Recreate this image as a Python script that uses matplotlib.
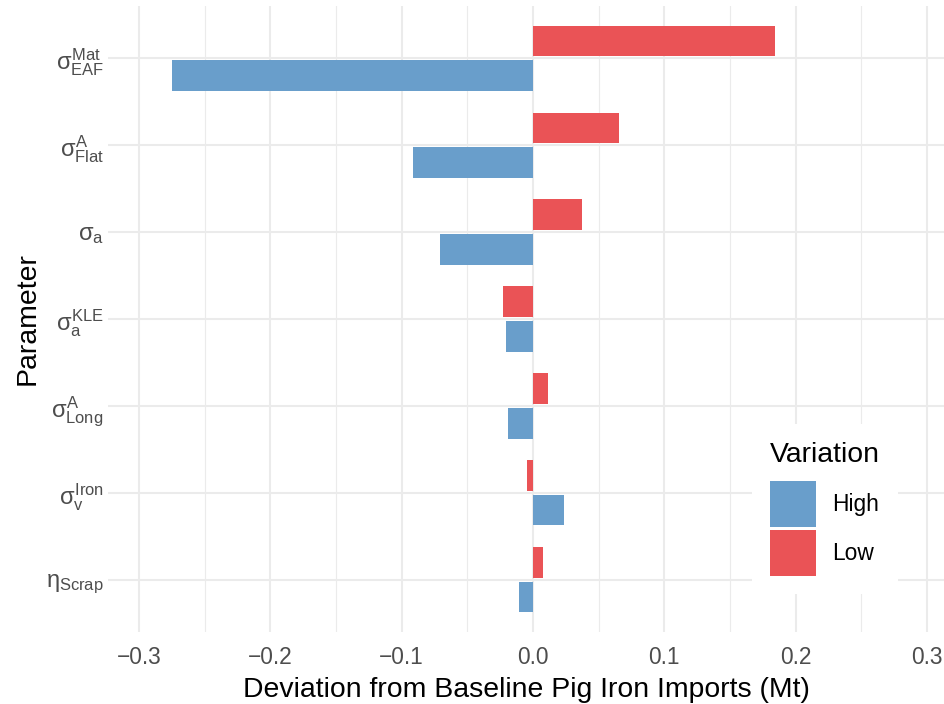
import matplotlib
matplotlib.use("Agg")
import matplotlib.pyplot as plt
from matplotlib.patches import Patch
from matplotlib.ticker import FixedLocator, FuncFormatter
import numpy as np

plt.rcParams['font.family'] = ['Liberation Sans', 'DejaVu Sans']
plt.rcParams['mathtext.fontset'] = 'custom'
plt.rcParams['mathtext.rm'] = 'Liberation Sans'
plt.rcParams['mathtext.it'] = 'Liberation Sans'
plt.rcParams['mathtext.bf'] = 'Liberation Sans:bold'

# Data (top to bottom)
parameters = [r'$\sigma_{\mathrm{EAF}}^{\mathrm{Mat}}$',
              r'$\sigma_{\mathrm{Flat}}^{\mathrm{A}}$',
              r'$\sigma_{\mathrm{a}}$',
              r'$\sigma_{\mathrm{a}}^{\mathrm{KLE}}$',
              r'$\sigma_{\mathrm{Long}}^{\mathrm{A}}$',
              r'$\sigma_{\mathrm{v}}^{\mathrm{Iron}}$',
              r'$\eta_{\mathrm{Scrap}}$']
high_values = [-0.275, -0.0915, -0.0708, -0.0206, -0.0190, 0.0236, -0.0107]
low_values = [0.184, 0.0655, 0.0373, -0.0228, 0.0114, -0.0046, 0.0076]
x_ticks = [-0.3, -0.2, -0.1, 0.0, 0.1, 0.2, 0.3]
series_names = ['High', 'Low']

c_high = '#699ECB'
c_low = '#EA5356'
grid_c = '#EBEBEB'

fig = plt.figure(figsize=(9.45, 7.04), dpi=100)
ax = fig.add_axes([108/945, 1-632/704, (945-108)/945, (632-6)/704])

n = len(parameters)
ypos = np.arange(n)[::-1]
ax.barh(ypos + 0.2, low_values, height=0.35, color=c_low, zorder=3)
ax.barh(ypos - 0.2, high_values, height=0.35, color=c_high, zorder=3)

ax.set_xlim(-0.3237, 0.3138)
ax.set_ylim(-0.6, n - 1 + 0.6)

ax.xaxis.set_major_locator(FixedLocator(x_ticks))
ax.xaxis.set_minor_locator(FixedLocator([-0.25, -0.15, -0.05, 0.05, 0.15, 0.25]))
ax.xaxis.set_major_formatter(FuncFormatter(lambda v, p: f"{v:.1f}".replace('-', '\u2212') if abs(v) > 1e-9 else "0.0"))
ax.set_yticks(ypos)
ax.set_yticklabels(parameters)

ax.grid(True, which='major', axis='both', color=grid_c, linewidth=1.5, zorder=0)
ax.grid(True, which='minor', axis='x', color=grid_c, linewidth=0.8, zorder=0)
ax.set_axisbelow(True)
for s in ax.spines.values():
    s.set_visible(False)
ax.tick_params(axis='both', which='both', length=0, colors='#4D4D4D', labelsize=16.4)
ax.tick_params(axis='x', pad=10)
ax.tick_params(axis='y', pad=3)
for lab in ax.get_yticklabels():
    lab.set_fontsize(17)

ax.set_xlabel('Deviation from Baseline Pig Iron Imports (Mt)', fontsize=20.4, color='black', labelpad=6)
ax.set_ylabel('Parameter', fontsize=20.4, color='black', labelpad=4)

handles = [Patch(facecolor=c_high, edgecolor='none', label=series_names[0]),
           Patch(facecolor=c_low, edgecolor='none', label=series_names[1])]
leg = ax.legend(handles=handles, title='Variation', loc='lower right',
                bbox_to_anchor=(898/945, 1-594/704), bbox_transform=fig.transFigure,
                fontsize=16.4, title_fontsize=20.4, frameon=True, fancybox=False,
                handlelength=2.0, handleheight=2.73, labelspacing=0.13,
                handletextpad=0.7, borderpad=0.78, borderaxespad=0)
leg.get_frame().set_facecolor('white')
leg.get_frame().set_edgecolor('none')
leg.get_frame().set_alpha(1)
leg._legend_box.align = 'left'
leg._legend_box.sep = 9.5
leg.set_zorder(5)

fig.savefig('out.png', dpi=100, facecolor='white')
